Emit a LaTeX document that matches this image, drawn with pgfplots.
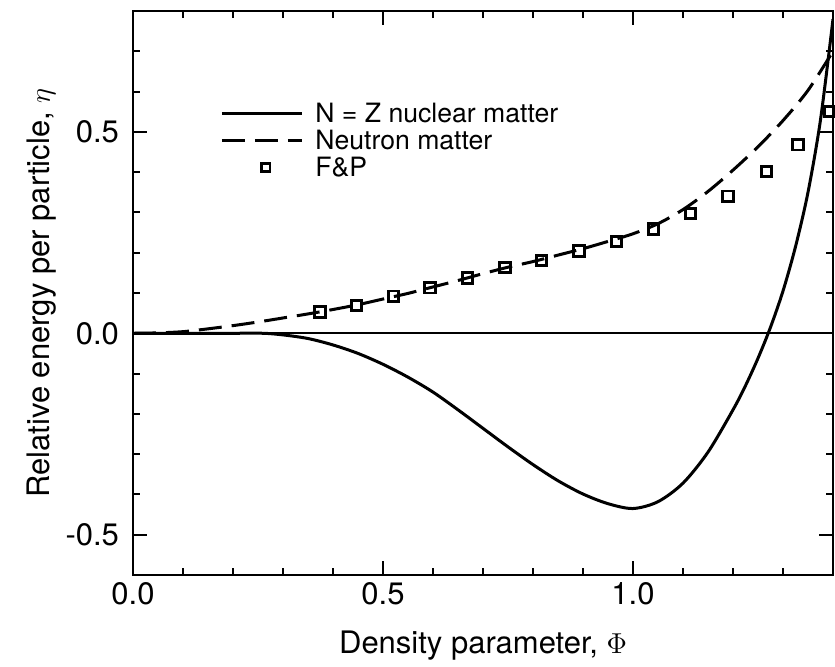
\documentclass[border=0pt]{standalone}
\usepackage{fontspec}
\setmainfont{TeX Gyre Heros}
\usepackage{pgfplots}
\pgfplotsset{compat=1.18}
\pgfplotsset{
  linelegend/.style={legend image code/.code={\draw[##1] (0pt,0pt) -- (40pt,0pt);}},
  marklegend/.style={legend image code/.code={\draw[mark repeat=2,mark phase=2,##1,mark size=2.1pt] plot coordinates {(0pt,0pt) (22pt,0pt) (44pt,0pt)};}},
}
\begin{document}
\begin{tikzpicture}
\path[use as bounding box] (-66.5pt,-46pt) rectangle (351pt,287.5pt);
\begin{axis}[
  scale only axis, width=350pt, height=282pt,
  xmin=0, xmax=1.4, ymin=-0.6, ymax=0.8,
  xtick={0,0.5,1.0}, ytick={-0.5,0,0.5},
  minor xtick={0.1,0.2,0.3,0.4,0.6,0.7,0.8,0.9,1.1,1.2,1.3},
  minor ytick={-0.4,-0.3,-0.2,-0.1,0.1,0.2,0.3,0.4,0.6,0.7},
  major tick length=7pt, minor tick length=3.5pt,
  tick align=inside,
  every tick/.style={black, line width=1pt},
  axis line style={line width=1.2pt},
  /pgf/number format/assume math mode=true,
  xticklabel style={/pgf/number format/fixed, /pgf/number format/fixed zerofill, /pgf/number format/precision=1},
  yticklabel style={/pgf/number format/fixed, /pgf/number format/fixed zerofill, /pgf/number format/precision=1, xshift=-3.5pt},
  tick label style={font=\fontsize{15.5}{18}\selectfont},
  label style={font=\fontsize{15.5}{18}\selectfont},
  xlabel={Density parameter, $\Phi$},
  ylabel={Relative energy per particle, $\eta$},
  xlabel style={at={(axis description cs:0.5,-0.125)}, anchor=center},
  ylabel style={at={(axis description cs:-0.13,0.5)}, anchor=center},
  legend style={at={(axis cs:0.174,0.580)}, anchor=north west, draw=none, fill=none,
    font=\fontsize{13.3}{14}\selectfont, inner sep=0pt,
    nodes={inner sep=2pt, text height=9.3pt, text depth=0.2pt},
    row sep=0pt, column sep=4pt},
  legend cell align=left,
]
\addplot[black, line width=1pt, forget plot] coordinates {(0,0) (1.4,0)};
\addplot[black, line width=1.5pt, smooth, linelegend] coordinates {
(0,0) (0.1,0) (0.2,0) (0.26,0) (0.3,-0.004) (0.35,-0.013) (0.4,-0.029) (0.45,-0.05) (0.5,-0.077) (0.55,-0.109) (0.6,-0.146) (0.65,-0.19) (0.7,-0.236) (0.75,-0.282) (0.8,-0.326) (0.85,-0.366) (0.9,-0.399) (0.95,-0.423) (1.0,-0.435) (1.05,-0.418) (1.1,-0.372) (1.15,-0.295) (1.2,-0.19) (1.225,-0.13) (1.25,-0.062) (1.275,0.015) (1.3,0.105) (1.325,0.215) (1.35,0.35) (1.375,0.53) (1.4,0.78)};
\addlegendentry{N = Z nuclear matter}
\addplot[black, line width=1.5pt, dash pattern=on 11.5pt off 5pt, smooth, linelegend] coordinates {
(0,0) (0.05,0.001) (0.1,0.004) (0.15,0.011) (0.2,0.019) (0.25,0.028) (0.3,0.038) (0.35,0.048) (0.4,0.059) (0.45,0.071) (0.5,0.085) (0.55,0.099) (0.6,0.115) (0.65,0.131) (0.7,0.148) (0.75,0.164) (0.8,0.178) (0.85,0.194) (0.9,0.210) (0.95,0.228) (1.0,0.247) (1.05,0.272) (1.1,0.307) (1.15,0.352) (1.2,0.405) (1.25,0.463) (1.3,0.528) (1.35,0.603) (1.4,0.70)};
\addlegendentry{Neutron matter}
\addplot[black, only marks, mark=square, mark size=2.6pt, mark options={line width=1.4pt}, marklegend] coordinates {
(0.374,0.053) (0.447,0.069) (0.521,0.092) (0.594,0.113) (0.669,0.137) (0.744,0.163) (0.817,0.181) (0.892,0.204) (0.967,0.228) (1.041,0.259) (1.115,0.297) (1.19,0.340) (1.267,0.402) (1.33,0.468) (1.394,0.550)};
\addlegendentry{F\&P}
\end{axis}
\end{tikzpicture}
\end{document}
